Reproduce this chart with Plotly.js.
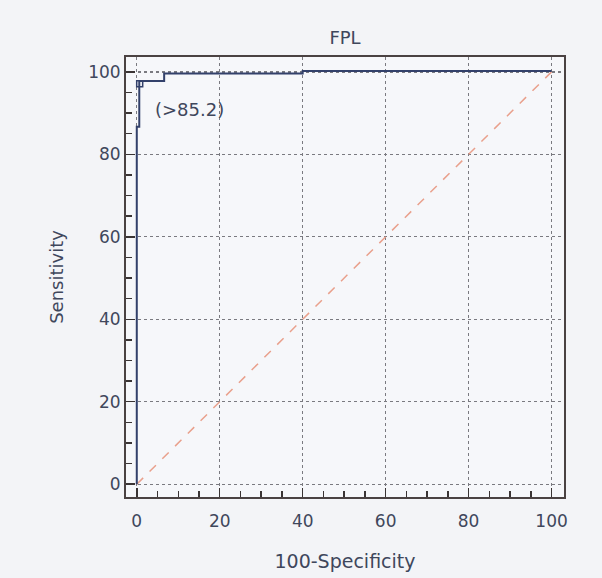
<!DOCTYPE html>
<html>
<head>
<meta charset="utf-8">
<script src="https://cdn.plot.ly/plotly-3.0.1.min.js"></script>
<style>html,body{margin:0;padding:0;background:#f3f4f7;}#chart{width:602px;height:578px;}</style>
</head>
<body>
<div id="chart"></div>
<script>
// ROC curve (step) for FPL
const rocX = [0, 0, 0.6, 0.6, 6.6, 6.6, 40, 40, 100];
const rocY = [0, 86.7, 86.7, 97.8, 97.8, 99.6, 99.6, 100.2, 100.2];
// reference diagonal
const diagX = [0, 100];
const diagY = [0, 100];
// optimal criterion point
const critX = [0.7];
const critY = [97.1];
const critLabel = "(>85.2)";
const tickVals = [0, 20, 40, 60, 80, 100];
const tickText = ["0", "20", "40", "60", "80", "100"];

const fontFam = '"DejaVu Sans", Verdana, sans-serif';
const txtColor = '#3f475c';

const traces = [
  {x: diagX, y: diagY, mode: 'lines', line: {color: '#e9a08c', width: 1.5, dash: 'dash'}, hoverinfo: 'skip'},
  {x: rocX, y: rocY, mode: 'lines', line: {color: '#33416b', width: 2}},
  {x: critX, y: critY, mode: 'markers', marker: {symbol: 'square-open', size: 6, color: '#33416b', line: {width: 1.5}}}
];

const axisCommon = {
  tickmode: 'array', tickvals: tickVals, ticktext: tickText,
  ticks: 'inside', ticklen: 9, tickwidth: 1.5, tickcolor: '#3a3434',
  minor: {dtick: 5, ticks: 'inside', ticklen: 6, tickwidth: 1.5, tickcolor: '#3a3434', showgrid: false},
  showgrid: true, gridcolor: '#7a7a80', griddash: 'dot', gridwidth: 1.3,
  zeroline: false, showline: true, linecolor: '#4a4242', linewidth: 2, mirror: true,
  tickfont: {family: fontFam, size: 17, color: txtColor},
  fixedrange: true
};

const layout = {
  width: 602, height: 578,
  margin: {l: 126, r: 38, t: 57, b: 81},
  paper_bgcolor: '#f3f4f7', plot_bgcolor: '#f6f7fa',
  showlegend: false,
  title: {text: 'FPL', font: {family: fontFam, size: 18, color: txtColor}, x: 0.5, xref: 'paper', y: 1 - 38/578, yref: 'container', yanchor: 'middle'},
  xaxis: Object.assign({}, axisCommon, {range: [-2.6, 103], ticklabelstandoff: 8, title: {text: '100-Specificity', font: {family: fontFam, size: 19, color: txtColor}, standoff: 24}}),
  yaxis: Object.assign({}, axisCommon, {range: [-3.1, 103.6], title: {text: 'Sensitivity', font: {family: fontFam, size: 18, color: txtColor}, standoff: 20}}),
  annotations: [{x: 12.8, y: 90.8, xref: 'x', yref: 'y', text: critLabel, showarrow: false, font: {family: fontFam, size: 18, color: txtColor}}]
};

Plotly.newPlot('chart', traces, layout, {displayModeBar: false, staticPlot: true});
</script>
</body>
</html>
